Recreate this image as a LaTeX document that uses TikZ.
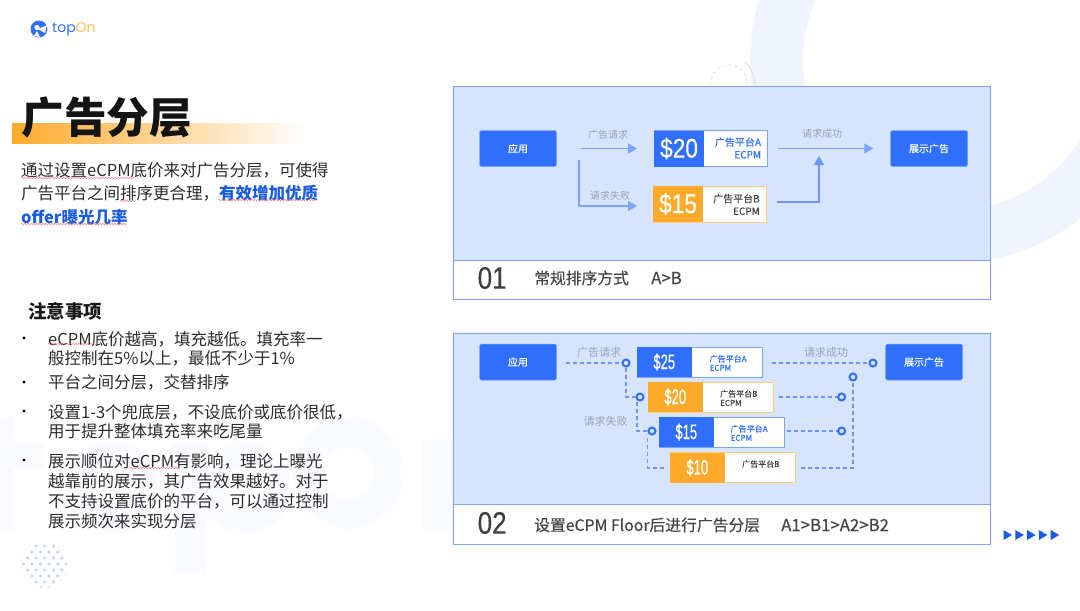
\documentclass[tikz,border=0pt]{standalone}
\usepackage{fontspec}
\setmainfont{Noto Sans CJK SC}
\newfontfamily\medfont[FakeBold=0.25]{Noto Sans CJK SC}
\newfontfamily\latinfont{Poppins}
\newfontfamily\dinfont[FakeStretch=0.84,FakeBold=0.35]{Liberation Sans}
\newfontfamily\dinnarrow[FakeStretch=0.62,FakeBold=0.3]{Liberation Sans}
\usetikzlibrary{positioning,arrows.meta,decorations.pathmorphing}
\definecolor{brandblue}{HTML}{2F6FFB}
\definecolor{deepblue}{HTML}{1A5CE0}
\definecolor{brandorange}{HTML}{FFAA2B}
\definecolor{panelfill}{HTML}{D6E4FD}
\definecolor{panelline}{HTML}{7BA3FA}
\definecolor{ringtint}{HTML}{EFF4FE}
\definecolor{marktint}{HTML}{FAFBFF}
\definecolor{dottint}{HTML}{C8D6F8}
\definecolor{inktext}{HTML}{2B2B2B}
\definecolor{softtext}{HTML}{444444}
\definecolor{greytext}{HTML}{9AA3B5}
\tikzset{
  bodytext/.style={anchor=west, inner sep=0pt, text=inktext, font=\fontsize{16.5}{20}\selectfont},
  capttext/.style={anchor=west, inner sep=0pt, text=softtext, font=\fontsize{15.8}{18}\selectfont\medfont},
  ordertext/.style={anchor=west, inner sep=0pt, text=softtext, font=\fontsize{16.8}{18}\selectfont\medfont},
  bignum/.style={anchor=west, inner sep=0pt, text=inktext!90, font=\fontsize{31}{34}\selectfont\dinfont},
  stepbox/.style={rectangle, rounded corners=1.5pt, fill=brandblue, draw=panelline, line width=0.5pt, text=white,
    minimum width=77pt, minimum height=36pt, inner sep=0pt, font=\fontsize{10}{12}\selectfont\medfont},
  bigamount/.style={rectangle, minimum height=36pt, inner sep=0pt, text=white, font=\fontsize{27}{30}\selectfont\dinfont},
  smallamount/.style={rectangle, minimum height=30pt, inner sep=0pt, text=white, font=\fontsize{21}{24}\selectfont\dinnarrow},
  platcell/.style={rectangle, fill=white, inner sep=0pt, line width=0.8pt},
  flowlabel/.style={inner sep=0pt, text=greytext, font=\fontsize{10}{12}\selectfont},
  laterlabel/.style={inner sep=0pt, text=greytext, font=\fontsize{11}{13}\selectfont},
  platA/.style={inner sep=0pt, align=right, text=brandblue, font=\fontsize{10}{12.5}\selectfont\medfont},
  platB/.style={inner sep=0pt, align=right, text=softtext, font=\fontsize{10}{12.5}\selectfont\medfont},
  tinyA/.style={anchor=west, inner sep=0pt, align=left, text=brandblue, font=\fontsize{8}{9}\selectfont\medfont},
  tinyB/.style={anchor=west, inner sep=0pt, align=left, text=softtext, font=\fontsize{8}{9}\selectfont\medfont},
  flow/.style={draw=panelline, line width=1.2pt, -{Triangle[length=9pt,width=10pt]}},
  hop/.style={draw=panelline!90!blue, line width=1.3pt, dash pattern=on 4pt off 3pt},
  hopnode/.style={circle, draw=brandblue, fill=panelfill, line width=2pt, minimum size=7pt, inner sep=0pt},
  squiggle/.style={draw=red!60, line width=0.4pt, decorate, decoration={snake, amplitude=0.6pt, segment length=3pt}},
}

\begin{document}
\begin{tikzpicture}[x=1pt,y=-1pt]
  \useasboundingbox (0,0) rectangle (1080,611);
  \clip (0,0) rectangle (1080,611);
  % background ring, top right
  \fill[ringtint, even odd rule] (953,60) circle[radius=203] (953,60) circle[radius=150];
  % dashed circle behind the first panel
  \draw[gray!25, line width=0.8pt, dashed] (729,83) circle[radius=18];
  \draw[gray!25, line width=0.8pt] (745,62) .. controls (752,68) and (755,76) .. (755,88);
  % faint word mark behind the notes
  \fill[marktint] (0,417) rectangle (13,531) (13,443) rectangle (43,468);
  \fill[marktint, even odd rule] (112,487) circle[radius=46] (112,487) circle[radius=20];
  \fill[marktint] (172,443) rectangle (207,575);
  \fill[marktint, even odd rule] (245,487) circle[radius=46] (245,487) circle[radius=20];
  \fill[marktint, even odd rule] (348,473) circle[radius=56] (348,473) circle[radius=26];
  \fill[marktint] (423,440) rectangle (460,531);
  % halftone dots, bottom left
  \begin{scope}
    \clip (45,565) circle[radius=23];
    \foreach \row in {0,...,7} {
      \pgfmathsetmacro{\rowshift}{mod(\row,2)*4.3}
      \foreach \col in {0,...,6} {
        \fill[dottint] (19+\col*8.6+\rowshift,546+\row*6) circle[radius=1.9];
      }
    }
  \end{scope}

  % logo
  \fill[brandblue] (39,29) circle[radius=8.5];
  \fill[white] (37,27.5) circle[radius=2.6];
  \fill[white] (38,29) -- (47,25) -- (45,33) -- cycle;
  \fill[white] (34,36) -- (37,31) -- (40,37) -- cycle;
  \node[anchor=west, inner sep=0pt, font=\fontsize{14}{16}\selectfont\latinfont] (logotext) at (52,29.5)
    {\textcolor{brandblue}{top}\textcolor{brandorange!80}{On}};

  % title with its fading bar
  \shade[left color=brandorange, right color=white] (12,123) rectangle (307,143);
  \node[anchor=west, inner sep=0pt, text=black!92, font=\fontsize{42.6}{46}\selectfont\bfseries] (title) at (21.5,117) {广告分层};
  % intro lines
  \node[bodytext] (introa) at (21,170) {通过设置eCPM底价来对广告分层，可使得};
  \node[bodytext] (introb) at (21,193) {广告平台之间排序更合理，\textcolor{deepblue}{\bfseries 有效增加优质}};
  \node[bodytext, text=deepblue, font=\fontsize{16.5}{20}\selectfont\bfseries] (introc) at (21,217) {offer曝光几率};
  \draw[squiggle] (21,178) -- (135,178);
  \draw[squiggle] (120,201) -- (136,201);
  \draw[squiggle] (218,200) -- (316,200);
  \draw[squiggle] (21,224) -- (127,224);

  % notes
  \node[anchor=west, inner sep=0pt, text=black!90, font=\fontsize{18.5}{22}\selectfont\bfseries] (notes) at (28,311) {注意事项};
  \foreach \bully in {338,382,411,460} {
    \fill[black] (24,\bully) circle[radius=1.7];
  }
  \node[bodytext] (notea) at (48,339) {eCPM底价越高，填充越低。填充率一};
  \node[bodytext] (noteb) at (48,358) {般控制在5\%以上，最低不少于1\%};
  \node[bodytext] (notec) at (48,382) {平台之间分层，交替排序};
  \node[bodytext] (noted) at (48,412) {设置1-3个兜底层，不设底价或底价很低，};
  \node[bodytext] (notee) at (48,431) {用于提升整体填充率来吃尾量};
  \node[bodytext] (notef) at (48,461) {展示顺位对eCPM有影响，理论上曝光};
  \node[bodytext] (noteg) at (48,481) {越靠前的展示，其广告效果越好。对于};
  \node[bodytext] (noteh) at (48,501) {不支持设置底价的平台，可以通过控制};
  \node[bodytext] (notei) at (48,521) {展示频次来实现分层};
  \draw[squiggle] (48,344) -- (97,344);
  \draw[squiggle] (130,468) -- (180,468);

  % first panel
  \draw[panelline, fill=panelfill] (453,86) rectangle (990,260);
  \draw[panelline, fill=white] (453,260) rectangle (990,299);
  \node[stepbox] (apptop) at (518,148.5) {应用};
  \node[stepbox] (showtop) at (929,148.5) {展示广告};
  % $20 badge
  \node[platcell, draw=panelline, minimum width=113pt, minimum height=36pt] (cella) at (711,148.5) {};
  \node[bigamount, fill=brandblue, minimum width=49.5pt, right=0pt of cella.west] (amta) {\$20};
  \node[platA] (plata) at (738,148) {广告平台A\\ECPM};
  % $15 badge
  \node[platcell, draw=brandorange!60, minimum width=113pt, minimum height=36pt] (cellb) at (710,204) {};
  \node[bigamount, fill=brandorange, minimum width=49.5pt, right=0pt of cellb.west] (amtb) {\$15};
  \node[platB] (platb) at (736.5,204.5) {广告平台B\\ECPM};
  % flows
  \coordinate (forktop) at (579,160);
  \coordinate (failend) at (637,206);
  \coordinate (joinend) at (819,156);
  \coordinate (bout) at (777,202);
  \draw[flow, shorten <=24pt, shorten >=17pt] (apptop) -- (amta);
  \draw[flow] (forktop) |- (failend);
  \draw[flow, shorten <=10pt, shorten >=17pt] (cella) -- (showtop);
  \draw[flow, line width=1.4pt, draw=panelline!90!blue] (bout) -| (joinend);
  \node[flowlabel] (reqtop) at (608,135) {广告请求};
  \node[flowlabel] (failtop) at (610,196) {请求失败};
  \node[flowlabel] (oktop) at (822,134) {请求成功};
  % caption
  \node[bignum] (numtop) at (477.5,278) {01};
  \node[capttext] (capttop) at (534,278) {常规排序方式};
  \node[ordertext] (ordertop) at (651,278) {A>B};

  % second panel
  \draw[panelline, fill=panelfill] (453,333) rectangle (990,504);
  \draw[panelline, fill=white] (453,504) rectangle (990,544);
  \node[stepbox] (applow) at (518,362) {应用};
  \node[stepbox] (showlow) at (924,362) {展示广告};
  % four floors
  \node[platcell, draw=panelline, minimum width=125pt, minimum height=30pt] (floora) at (699.5,362) {};
  \node[smallamount, fill=brandblue, minimum width=55pt, right=0pt of floora.west] (pricea) {\$25};
  \node[tinyA] (labela) at (709.5,363) {广告平台A\\ECPM};
  \node[platcell, draw=brandorange!60, minimum width=125pt, minimum height=30pt] (floorb) at (710.5,397) {};
  \node[smallamount, fill=brandorange, minimum width=55pt, right=0pt of floorb.west] (priceb) {\$20};
  \node[tinyB] (labelb) at (720,398) {广告平台B\\ECPM};
  \node[platcell, draw=panelline, minimum width=125pt, minimum height=30pt] (floorc) at (721.5,432) {};
  \node[smallamount, fill=brandblue, minimum width=55pt, right=0pt of floorc.west] (pricec) {\$15};
  \node[tinyA] (labelc) at (730.5,433) {广告平台A\\ECPM};
  \node[platcell, draw=brandorange!60, minimum width=125pt, minimum height=30pt] (floord) at (732.5,467.5) {};
  \node[smallamount, fill=brandorange, minimum width=55pt, right=0pt of floord.west] (priced) {\$10};
  \node[tinyB] (labeld) at (742,464) {广告平台B};
  % hop rings
  \node[hopnode] (hopa) at (626,363) {};
  \node[hopnode] (hopb) at (640,397) {};
  \node[hopnode] (hopc) at (652,431) {};
  \node[hopnode] (hopok) at (873,363) {};
  \node[hopnode] (hopjoin) at (853,377) {};
  \node[hopnode] (hopoutb) at (841.6,397) {};
  \node[hopnode] (hopoutc) at (841.6,431) {};
  % dashed links
  \coordinate (startlow) at (566,363);
  \coordinate (aright) at (772,363);
  \coordinate (bright) at (779,397);
  \coordinate (cright) at (786.5,431);
  \coordinate (dright) at (801.4,468);
  \coordinate (dleft) at (664,468);
  \coordinate (forkb) at (637,402);
  \coordinate (forkc) at (647.6,438);
  \draw[hop] (startlow) -- (hopa);
  \draw[hop] (hopa) |- (hopb);
  \draw[hop] (forkb) |- (hopc);
  \draw[hop] (forkc) |- (dleft);
  \draw[hop] (aright) -- (hopok);
  \draw[hop] (bright) -- (hopoutb);
  \draw[hop] (cright) -- (hopoutc);
  \draw[hop] (dright) -| (hopjoin);
  \node[laterlabel] (reqlow) at (599,352) {广告请求};
  \node[laterlabel] (oklow) at (826,352) {请求成功};
  \node[laterlabel] (faillow) at (605.5,421) {请求失败};
  % caption
  \node[bignum] (numlow) at (477.5,523) {02};
  \node[capttext] (captlow) at (534,525) {设置eCPM Floor后进行广告分层};
  \node[ordertext] (orderlow) at (781,525) {A1>B1>A2>B2};

  % little arrows, bottom right
  \foreach \tick in {0,...,4} {
    \fill[deepblue] (1003.5+\tick*11.8,530) -- (1012+\tick*11.8,535) -- (1003.5+\tick*11.8,540) -- cycle;
  }
\end{tikzpicture}
\end{document}
